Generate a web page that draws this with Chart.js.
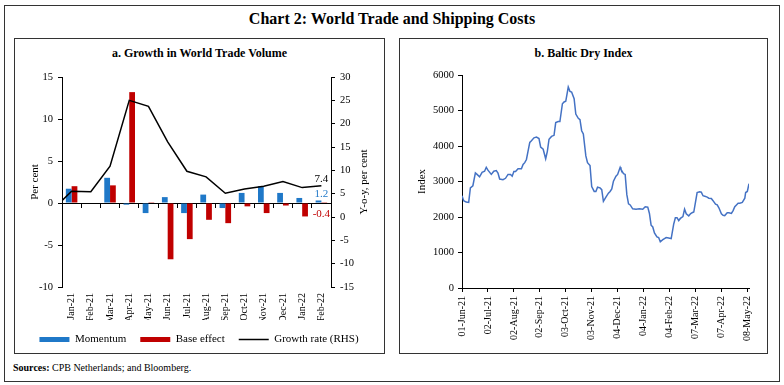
<!DOCTYPE html>
<html>
<head>
<meta charset="utf-8">
<script src="https://cdn.jsdelivr.net/npm/chart.js"></script>
<style>
  body { margin: 0; background: #fff; font-family: "Liberation Serif", serif; color: #000; }
  #page { position: relative; width: 784px; height: 385px; overflow: hidden; }
  .box { position: absolute; border: 1px solid #333; box-sizing: border-box; }
  .txt { position: absolute; white-space: nowrap; }
  canvas { position: absolute; }
</style>
</head>
<body>
<div id="page">
  <div class="box" style="left:4px;top:5px;width:776px;height:377px;"></div>
  <div class="txt" style="left:0;width:784px;top:10px;text-align:center;font-weight:bold;font-size:16px;">Chart 2: World Trade and Shipping Costs</div>

  <div class="box" style="left:14px;top:38px;width:371px;height:316px;"></div>
  <div class="txt" style="left:14px;width:371px;top:46px;text-align:center;font-weight:bold;font-size:12px;">a. Growth in World Trade Volume</div>
  <canvas id="tradeChart" width="368" height="316" style="left:15px;top:39px;"></canvas>

  <div class="box" style="left:399px;top:38px;width:369px;height:316px;"></div>
  <div class="txt" style="left:399px;width:369px;top:46px;text-align:center;font-weight:bold;font-size:12px;">b. Baltic Dry Index</div>
  <canvas id="bdiChart" width="366" height="313" style="left:400px;top:39px;"></canvas>

  <div class="txt" style="left:13px;top:362px;font-size:10px;"><b>Sources:</b> CPB Netherlands; and Bloomberg.</div>
</div>

<script>
// panel a: monthly data
const months = ['Jan-21', 'Feb-21', 'Mar-21', 'Apr-21', 'May-21', 'Jun-21', 'Jul-21',
  'Aug-21', 'Sep-21', 'Oct-21', 'Nov-21', 'Dec-21', 'Jan-22', 'Feb-22'];
const momentum = [1.7, 0, 3.0, -0.2, -1.2, 0.7, -1.2, 1.0, -0.6, 1.2, 2.0, 1.2, 0.6, 0.3];
const baseEffect = [2.0, 0, 2.1, 13.2, 0.1, -6.7, -4.3, -2.0, -2.4, -0.4, -1.2, -0.3, -1.6, 0.1];
// growth rate starts one month earlier (Dec-20), which falls just outside the axis
const growthRate = [1.5, 5.5, 5.4, 10.9, 25.0, 23.7, 16.1, 9.8, 8.6, 5.1, 6.0, 6.6, 7.6, 6.3, 6.7];
const endLabels = ['7.4', '1.2', '-0.4'];

// panel b: Baltic Dry Index, days counted from 01-Jun-21
const bdiDay = [0, 2, 5, 8, 10, 13, 16, 18, 21, 24, 27, 29, 31, 35, 38, 41, 43, 45, 49, 52,
  55, 58, 60, 62, 64, 67, 71, 73, 75, 77, 79, 81, 83, 86, 89, 92, 94, 97, 100, 102,
  104, 107, 110, 112, 115, 117, 120, 122, 124, 127, 129, 131, 134, 136, 139, 141, 143, 145, 148, 150,
  153, 155, 158, 160, 162, 165, 167, 169, 172, 175, 177, 179, 181, 184, 186, 189, 190, 193, 195, 197,
  199, 201, 204, 208, 212, 216, 219, 222, 224, 226, 228, 230, 233, 235, 237, 240, 242, 244, 247, 250,
  253, 255, 257, 259, 261, 264, 266, 268, 271, 273, 275, 277, 279, 281, 284, 286, 288, 291, 293, 295,
  298, 300, 303, 305, 307, 310, 312, 314, 317, 319, 322, 324, 326, 328, 330, 332, 335, 338, 339, 341, 343];
const bdiValue = [2600, 2460, 2420, 2410, 2820, 2880, 3240, 3200, 3130, 3260, 3290, 3400, 3320, 3200, 3290, 3310, 3240, 3070, 3050, 3090,
  3200, 3200, 3150, 3280, 3280, 3360, 3360, 3480, 3530, 3620, 3860, 4100, 4150, 4230, 4250, 4210, 3970, 3910, 3640, 3850,
  4190, 4270, 4300, 4660, 4690, 4690, 5190, 5240, 5260, 5660, 5540, 5520, 5330, 4900, 4780, 4740, 4430, 4340, 3720, 3530,
  3450, 2860, 2720, 2720, 2840, 2820, 2770, 2440, 2560, 2670, 2720, 2790, 3010, 3150, 3200, 3400, 3340, 3220, 3200, 2630,
  2370, 2340, 2230, 2220, 2230, 2220, 2290, 2280, 2100, 1770, 1720, 1550, 1440, 1420, 1300, 1360, 1390, 1420, 1410, 1390,
  1800, 1980, 1980, 1900, 1960, 2010, 2220, 2090, 2030, 2090, 2120, 2140, 2410, 2690, 2710, 2700, 2600, 2580, 2560, 2530,
  2520, 2460, 2360, 2340, 2260, 2090, 2050, 2040, 2120, 2120, 2100, 2180, 2290, 2340, 2390, 2390, 2410, 2530, 2690, 2720, 2940];
const bdiTickLabels = ['01-Jun-21', '02-Jul-21', '02-Aug-21', '02-Sep-21', '03-Oct-21', '03-Nov-21',
  '04-Dec-21', '04-Jan-22', '04-Feb-22', '07-Mar-22', '07-Apr-22', '08-May-22'];

const SERIF = '"Liberation Serif", serif';
const BLUE = '#1f78c8';
const RED = '#c00000';
Chart.defaults.font.family = SERIF;
Chart.defaults.color = '#000';

const MON = { Jan: 0, Feb: 1, Mar: 2, Apr: 3, May: 4, Jun: 5, Jul: 6, Aug: 7, Sep: 8, Oct: 9, Nov: 10, Dec: 11 };
function dayOf(label) {
  const [d, m, y] = label.split('-');
  const t = Date.UTC(2000 + +y, MON[m], +d);
  return Math.round((t - Date.UTC(2021, 5, 1)) / 86400000);
}

// rotated axis titles + the fixed notes at the end of panel a
const sideText = {
  id: 'sideText',
  afterDraw(chart, args, opts) {
    const { ctx, chartArea } = chart;
    const cy = (chartArea.top + chartArea.bottom) / 2;
    ctx.save();
    ctx.textAlign = 'center';
    ctx.textBaseline = 'middle';
    ctx.fillStyle = '#000';
    ctx.font = '11px ' + SERIF;
    (opts.titles || []).forEach(t => {
      ctx.save();
      ctx.translate(t.x, cy);
      ctx.rotate(-Math.PI / 2);
      ctx.fillText(t.text, 0, 0);
      ctx.restore();
    });
    if (opts.endNotes) {
      const x = chart.scales.x.getPixelForValue(months.length - 1);
      const y0 = chart.scales.y.getPixelForValue(0);
      const offs = [-24, -9, 11];
      const cols = ['#000', BLUE, RED];
      endLabels.forEach((t, i) => {
        ctx.fillStyle = cols[i];
        ctx.fillText(t, x, y0 + offs[i]);
      });
    }
    ctx.restore();
  }
};

const axisTicks = { drawOnChartArea: false, tickLength: 4, color: '#000' };
const monthTicks = s => { s.ticks = months.map((m, i) => ({ value: i })); };
const boundaryTicks = s => { s.ticks = months.concat('').map((m, i) => ({ value: i - 0.5 })); };

new Chart(document.getElementById('tradeChart'), {
  type: 'bar',
  data: {
    datasets: [
      { label: 'Momentum', data: momentum.map((v, i) => ({ x: i, y: v })), backgroundColor: BLUE,
        xAxisID: 'x', yAxisID: 'y', categoryPercentage: 0.6, barPercentage: 1, order: 2 },
      { label: 'Base effect', data: baseEffect.map((v, i) => ({ x: i, y: v })), backgroundColor: RED,
        xAxisID: 'x', yAxisID: 'y', categoryPercentage: 0.6, barPercentage: 1, order: 2 },
      { type: 'line', label: 'Growth rate (RHS)', data: growthRate.map((v, i) => ({ x: i - 1, y: v })),
        borderColor: '#000', backgroundColor: '#000', borderWidth: 1.5, pointRadius: 0, tension: 0,
        xAxisID: 'x', yAxisID: 'y2', order: 0 }
    ]
  },
  options: {
    responsive: false,
    animation: false,
    layout: { padding: { top: 38, left: 0, right: 0, bottom: 0 } },
    plugins: {
      tooltip: { enabled: false },
      legend: {
        position: 'bottom',
        labels: {
          usePointStyle: true, pointStyleWidth: 30, boxHeight: 5, padding: 14,
          color: '#000', font: { size: 11 },
          generateLabels: chart => chart.data.datasets.map((ds, i) => ({
            text: ds.label,
            fillStyle: ds.backgroundColor,
            strokeStyle: ds.borderColor || ds.backgroundColor,
            lineWidth: ds.type === 'line' ? 1.5 : 0,
            pointStyle: ds.type === 'line' ? 'line' : 'rect',
            fontColor: '#000',
            hidden: false,
            datasetIndex: i
          }))
        }
      },
      sideText: { titles: [{ x: 20, text: 'Per cent' }, { x: 349, text: 'Y-o-y, per cent' }], endNotes: true }
    },
    scales: {
      x: {
        type: 'linear', position: 'bottom', min: -0.5, max: 13.5, offset: false,
        afterBuildTicks: monthTicks,
        grid: { display: false, drawTicks: false }, border: { display: false },
        ticks: { callback: (v, i) => months[i], minRotation: 90, maxRotation: 90, autoSkip: false,
          padding: 6, font: { size: 10 } },
        afterFit(s) { s.height = 33; }
      },
      xz: {
        type: 'linear', position: { y: 0 }, min: -0.5, max: 13.5, offset: false,
        afterBuildTicks: boundaryTicks,
        grid: { drawOnChartArea: false, tickLength: 4, color: '#000', offset: false },
        border: { display: true, color: '#000' },
        ticks: { display: false },
        afterFit(s) { s.height = 0; }
      },
      y: {
        position: 'left', min: -10, max: 15,
        ticks: { stepSize: 5, padding: 5, font: { size: 10.5 } },
        grid: axisTicks, border: { color: '#000' },
        afterFit(s) { s.width = 47; }
      },
      y2: {
        position: 'right', min: -15, max: 30,
        ticks: { stepSize: 5, padding: 5, font: { size: 10.5 } },
        grid: axisTicks, border: { color: '#000' },
        afterFit(s) { s.width = 52; }
      }
    }
  },
  plugins: [sideText]
});

new Chart(document.getElementById('bdiChart'), {
  type: 'line',
  data: {
    datasets: [{
      label: 'Baltic Dry Index',
      data: bdiDay.map((d, i) => ({ x: d, y: bdiValue[i] })),
      borderColor: '#4472c4', borderWidth: 1.5, pointRadius: 0, tension: 0
    }]
  },
  options: {
    responsive: false,
    animation: false,
    layout: { padding: { top: 36, left: 0, right: 17, bottom: 0 } },
    plugins: {
      tooltip: { enabled: false },
      legend: { display: false },
      sideText: { titles: [{ x: 22, text: 'Index' }] }
    },
    scales: {
      x: {
        type: 'linear', min: 0, max: 343,
        afterBuildTicks(s) { s.ticks = bdiTickLabels.map(l => ({ value: dayOf(l) })); },
        ticks: { callback: (v, i) => bdiTickLabels[i], minRotation: 90, maxRotation: 90, autoSkip: false,
          padding: 4, font: { size: 10 } },
        grid: axisTicks, border: { color: '#000' },
        afterFit(s) { s.height = 64; }
      },
      y: {
        min: 0, max: 6000,
        ticks: { stepSize: 1000, padding: 4, font: { size: 10.5 }, callback: v => String(v) },
        grid: axisTicks, border: { color: '#000' },
        afterFit(s) { s.width = 62; }
      }
    }
  },
  plugins: [sideText]
});
</script>
</body>
</html>
